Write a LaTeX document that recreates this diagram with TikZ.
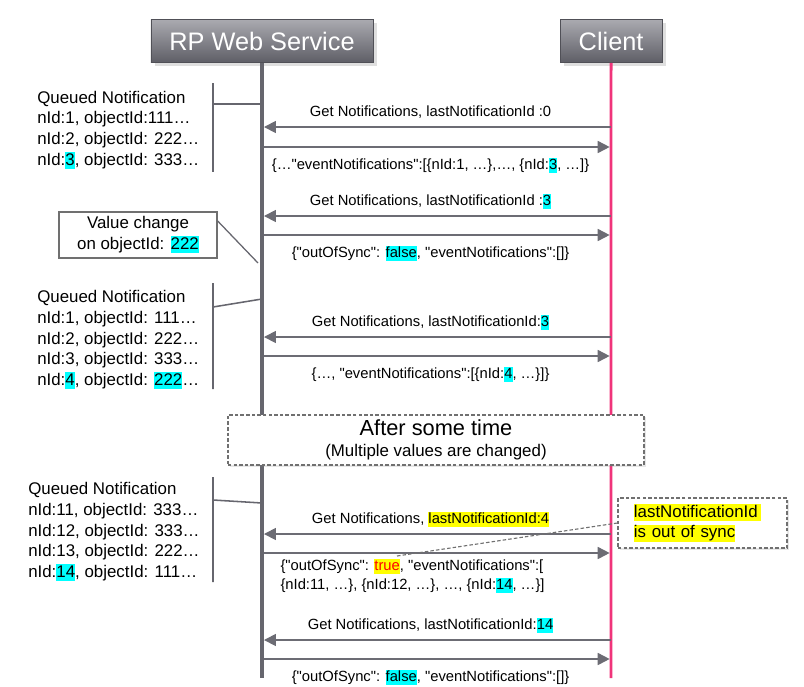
\documentclass[tikz,border=0pt]{standalone}
\usepackage{fontspec}
\setmainfont{Liberation Sans}[Ligatures=TeXOff]
\usetikzlibrary{arrows.meta,shadows}

\definecolor{hlcyan}{RGB}{0,255,255}
\definecolor{hlyellow}{RGB}{255,255,0}
\definecolor{lifegray}{RGB}{102,102,110}
\definecolor{arrgray}{RGB}{108,108,116}
\definecolor{boxgray}{RGB}{112,112,112}
\definecolor{clpink}{RGB}{240,52,122}
\definecolor{headtop}{RGB}{170,170,176}
\definecolor{headbot}{RGB}{94,94,102}

\newcommand{\hlc}[1]{{\setlength{\fboxsep}{0pt}\colorbox{hlcyan}{\rule[-0.22em]{0pt}{1em}#1}}}
\newcommand{\hly}[1]{{\setlength{\fboxsep}{0pt}\colorbox{hlyellow}{\rule[-0.22em]{0pt}{1em}#1}}}

\begin{document}
\begin{tikzpicture}[
	x=0.025cm,
	y=-0.025cm,
	>={Triangle[length=8.5pt,width=8.5pt]},
	head node/.style={rectangle,draw=headbot!85!black,top color=headtop,bottom color=headbot,text=white,font=\fontsize{18}{20}\selectfont,minimum height=1.075cm,drop shadow={opacity=0.25}},
	note node/.style={align=left,anchor=west,inner sep=0pt,font=\fontsize{12}{14.7}\selectfont},
	note box/.style={rectangle,draw=boxgray,line width=0.9pt,font=\fontsize{12}{14.7}\selectfont},
	dash node/.style={rectangle,draw=boxgray,fill=white,line width=0.8pt,dash pattern=on 2.5pt off 1.5pt,drop shadow={opacity=0.2,shadow xshift=1.5pt,shadow yshift=-1.5pt}},
	note line/.style={draw=lifegray,line width=1.1pt},
	call/.style={->,draw=arrgray,line width=1.2pt,shorten >=1.4pt},
	reply/.style={->,draw=arrgray,line width=1.2pt,shorten <=1.4pt,shorten >=1pt},
	lbl up/.style={above=1pt,xshift=-0.15cm,inner sep=1.5pt,font=\fontsize{10.5}{13.5}\selectfont,execute at begin node=\strut},
	lbl down/.style={below=4.5pt,xshift=-0.15cm,inner sep=1.5pt,font=\fontsize{10.5}{13.5}\selectfont,execute at begin node=\strut}
]
\useasboundingbox (0,0) rectangle (804,686);

% lifelines
\node[head node,minimum width=5.55cm] (rp) at (262,41) {RP Web Service};
\node[head node,minimum width=2.55cm] (cl) [right of=rp,node distance=8.725cm] {Client};
\coordinate (rpend) at (262,678);
\coordinate (clend) at (611,678);
\draw[lifegray,line width=2.8pt] (rp.south) -- (rpend);
\draw[clpink,line width=2pt] (cl.south) -- (clend);

\foreach \n/\y in {1/127,2/147,3/216,4/235,5/337,6/356,7/534,8/553,9/640,10/659} {
	\coordinate (s\n) at (rp.south |- 0,\y);
	\coordinate (c\n) at (cl.south |- 0,\y);
}

% queued notifications
\node[note node] (q1) at (37,130) {Queued Notification\\nId:1, objectId:111…\\nId:2, objectId: 222…\\nId:\hlc{3}, objectId: 333…};
\node[note node] (q2) at (37,340) {Queued Notification\\nId:1, objectId: 111…\\nId:2, objectId: 222…\\nId:3, objectId: 333…\\nId:\hlc{4}, objectId: \hlc{222}…};
\node[note node] (q3) at (28,532) {Queued Notification\\nId:11, objectId: 333…\\nId:12, objectId: 333…\\nId:13, objectId: 222…\\nId:\hlc{14}, objectId: 111…};

\foreach \k/\t/\b/\m/\e in {1/83/172/104/104,2/283/389/307/299,3/477/582/500/503} {
	\coordinate (k\k t) at (213,\t);
	\coordinate (k\k b) at (213,\b);
	\coordinate (k\k m) at (213,\m);
	\coordinate (k\k e) at (262,\e);
	\draw[note line] (k\k t) -- (k\k b) (k\k m) -- (k\k e);
}

\node[note box,minimum width=3.95cm,minimum height=1.15cm,align=center] (chg) at (138,235) {Value change\\on objectId: \hlc{222}};
\coordinate (chgend) at (258,263);
\draw[note line,line width=0.9pt] (chg.10) -- (chgend);

% messages
\draw[call] (c1) -- node[lbl up] {Get Notifications, lastNotificationId :0} (s1);
\draw[reply] (s2) -- node[lbl down] {\{…"eventNotifications":[\{nId:1, …\},…, \{nId:\hlc{3}, …]\}} (c2);
\draw[call] (c3) -- node[lbl up] {Get Notifications, lastNotificationId :\hlc{3}} (s3);
\draw[reply] (s4) -- node[lbl down] {\{"outOfSync": \hlc{false}, "eventNotifications":[]\}} (c4);
\draw[call] (c5) -- node[lbl up] {Get Notifications, lastNotificationId:\hlc{3}} (s5);
\draw[reply] (s6) -- node[lbl down] {\{…, "eventNotifications":[\{nId:\hlc{4}, …\}]\}} (c6);

\node[dash node,minimum width=10.4cm,minimum height=1.25cm,align=center,font=\fontsize{12}{15}\selectfont] (later) at (436,440) {{\fontsize{15.5}{15}\selectfont After some time}\\(Multiple values are changed)};

\draw[call] (c7) -- node[lbl up] {Get Notifications, \hly{lastNotificationId:4}} (s7);
\draw[reply] (s8) -- node[lbl down,align=left,xshift=-0.45cm,yshift=2pt] {\{"outOfSync": \hly{\textcolor{red}{true}}, "eventNotifications":[\\\{nId:11, …\}, \{nId:12, …\}, …, \{nId:\hlc{14}, …\}]} (c8);
\draw[call] (c9) -- node[lbl up] {Get Notifications, lastNotificationId:\hlc{14}} (s9);
\draw[reply] (s10) -- node[lbl down] {\{"outOfSync": \hlc{false}, "eventNotifications":[]\}} (c10);

% out of sync remark
\node[dash node,text width=3.425cm,inner xsep=0.4cm,minimum height=1.25cm,align=left,font=\fontsize{12}{14.5}\selectfont] (oos) at (702.5,523) {\hly{lastNotificationId\,}\\\hly{is out of sync}};
\coordinate (oosend) at (397,556);
\draw[boxgray,line width=0.8pt,dash pattern=on 2.5pt off 1.5pt] (oos.west) -- (oosend);
\end{tikzpicture}
\end{document}
